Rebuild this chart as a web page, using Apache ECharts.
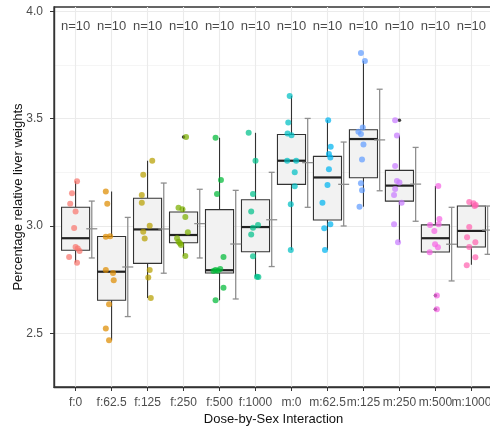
<!DOCTYPE html>
<html>
<head>
<meta charset="utf-8">
<script src="https://cdn.jsdelivr.net/npm/echarts@6/dist/echarts.min.js"></script>
<style>
  html, body { margin: 0; padding: 0; background: #fff; }
  #main { width: 490px; height: 429px; }
</style>
</head>
<body>
<div id="main"></div>
<script>
// groups on the x axis
const groups = ['f:0', 'f:62.5', 'f:125', 'f:250', 'f:500', 'f:1000',
  'm:0', 'm:62.5', 'm:125', 'm:250', 'm:500', 'm:1000'];
const counts = [10, 10, 10, 10, 10, 10, 10, 10, 10, 10, 10, 10];

// box stats: [lower whisker, Q1, median, Q3, upper whisker]
const boxStats = [
  [2.830, 2.887, 2.943, 3.087, 3.208],
  [2.468, 2.654, 2.787, 2.951, 3.161],
  [2.664, 2.826, 2.984, 3.129, 3.304],
  [2.860, 2.922, 2.958, 3.065, 3.085],
  [2.654, 2.781, 2.794, 3.076, 3.411],
  [2.764, 2.880, 2.995, 3.122, 3.434],
  [2.888, 3.194, 3.304, 3.426, 3.606],
  [2.888, 3.028, 3.226, 3.324, 3.493],
  [3.090, 3.225, 3.405, 3.448, 3.769],
  [2.924, 3.116, 3.188, 3.259, 3.422],
  [2.878, 2.879, 2.943, 3.005, 3.186],
  [2.819, 2.902, 2.977, 3.093, 3.112]
];
// outliers: [group index, value]
const outliers = [[3, 3.415], [9, 3.493], [10, 2.676], [10, 2.612]];

// mean and error bar ends
const means = [2.987, 2.809, 2.986, 3.011, 2.916, 3.029, 3.295, 3.194, 3.401, 3.195, 2.915, 2.981];
const errLow = [2.851, 2.578, 2.780, 2.851, 2.660, 2.811, 3.087, 3.000, 3.164, 3.022, 2.744, 2.868];
const errHigh = [3.116, 3.040, 3.200, 3.171, 3.166, 3.250, 3.501, 3.391, 3.637, 3.366, 3.087, 3.093];

// raw observations and their horizontal jitter
const pointValues = [
  [3.208, 3.152, 3.104, 3.068, 2.991, 2.902, 2.884, 2.856, 2.829, 2.895],
  [3.161, 3.104, 2.950, 2.952, 2.795, 2.781, 2.747, 2.636, 2.522, 2.468],
  [3.304, 3.239, 3.144, 3.108, 3.001, 2.973, 2.942, 2.795, 2.760, 2.664],
  [3.085, 3.078, 3.042, 2.971, 2.943, 2.927, 2.919, 2.912, 2.860, 3.415],
  [3.411, 3.214, 3.149, 2.856, 2.800, 2.795, 2.791, 2.790, 2.712, 2.654],
  [3.434, 3.304, 3.149, 3.067, 2.992, 3.005, 2.960, 2.859, 2.764, 2.762],
  [3.606, 3.482, 3.431, 3.423, 3.304, 3.304, 3.250, 3.185, 3.101, 2.888],
  [3.493, 3.369, 3.335, 3.319, 3.264, 3.191, 3.108, 3.008, 2.989, 2.888],
  [3.806, 3.769, 3.459, 3.439, 3.428, 3.380, 3.310, 3.199, 3.167, 3.090],
  [3.493, 3.422, 3.279, 3.209, 3.203, 3.172, 3.144, 3.108, 3.008, 2.924],
  [3.186, 3.033, 3.005, 3.008, 2.977, 2.915, 2.901, 2.878, 2.676, 2.612],
  [3.112, 3.106, 3.098, 3.093, 2.995, 2.947, 2.924, 2.902, 2.854, 2.817]
];
const pointJitter = [
  [0.04, -0.10, -0.15, 0.00, -0.04, 0.00, 0.11, -0.18, 0.04, 0.06],
  [-0.16, -0.12, -0.16, -0.04, -0.16, 0.04, 0.06, -0.07, -0.16, -0.07],
  [0.13, -0.12, -0.16, -0.16, 0.06, -0.12, -0.08, 0.06, 0.02, 0.09],
  [-0.14, -0.03, 0.05, 0.12, -0.18, -0.14, -0.10, -0.07, 0.05, 0.07],
  [-0.11, 0.04, -0.07, 0.11, 0.02, -0.11, -0.05, -0.17, 0.11, -0.11],
  [-0.19, 0.00, -0.07, -0.12, -0.07, 0.07, -0.12, -0.07, 0.04, 0.08],
  [-0.05, -0.09, -0.11, 0.00, -0.12, 0.13, 0.09, 0.09, -0.02, -0.02],
  [0.02, 0.09, 0.04, 0.08, 0.04, 0.00, -0.14, 0.08, -0.09, -0.07],
  [-0.07, 0.04, -0.02, -0.14, -0.07, 0.00, -0.04, -0.07, -0.04, -0.11],
  [-0.12, -0.07, -0.12, -0.07, 0.00, -0.12, -0.15, 0.06, -0.15, -0.04],
  [0.08, 0.11, -0.15, 0.09, -0.03, -0.01, 0.07, -0.16, 0.04, 0.04],
  [-0.06, 0.06, 0.12, 0.09, -0.06, -0.12, 0.11, -0.06, 0.11, -0.13]
];

const palette = ['#F8766D', '#DE8C00', '#B79F00', '#7CAE00', '#00BA38', '#00C08B',
  '#00BFC4', '#00B4F0', '#619CFF', '#C77CFF', '#F564E3', '#FF64B0'];

const FONT = 'Liberation Sans, Arial, sans-serif';
const BOX_HALF = 0.39;
const ERR_SHIFT = 0.45;

var chart = echarts.init(document.getElementById('main'));

// labels split over two bottom axes so neighbours never get hidden
const evenIdx = groups.map((g, i) => i).filter(i => i % 2 === 0);
const oddIdx = groups.map((g, i) => i).filter(i => i % 2 === 1);

const boxSeries = {
  type: 'custom',
  z: 3,
  data: boxStats.map((s, i) => [i].concat(s)),
  renderItem: function (params, api) {
    const i = api.value(0);
    const xl = api.coord([i - BOX_HALF, 3])[0];
    const xr = api.coord([i + BOX_HALF, 3])[0];
    const xc = api.coord([i, 3])[0];
    const y = k => api.coord([i, api.value(k)])[1];
    const lineStyle = { stroke: '#333', lineWidth: 1.1 };
    return {
      type: 'group',
      children: [
        { type: 'line', shape: { x1: xc, y1: y(1), x2: xc, y2: y(2) }, style: lineStyle },
        { type: 'line', shape: { x1: xc, y1: y(4), x2: xc, y2: y(5) }, style: lineStyle },
        { type: 'rect', shape: { x: xl, y: y(4), width: xr - xl, height: y(2) - y(4) },
          style: { fill: '#f2f2f2', stroke: '#333', lineWidth: 1.1 } },
        { type: 'line', shape: { x1: xl, y1: y(3), x2: xr, y2: y(3) },
          style: { stroke: '#222', lineWidth: 2.2 } }
      ]
    };
  }
};

const errSeries = {
  type: 'custom',
  z: 5,
  data: means.map((m, i) => [i, m, errLow[i], errHigh[i]]),
  renderItem: function (params, api) {
    const x = api.value(0) + ERR_SHIFT;
    const p = api.coord([x, api.value(1)]);
    const lo = api.coord([x, api.value(2)]);
    const hi = api.coord([x, api.value(3)]);
    const st = { stroke: '#8f8f8f', lineWidth: 1.3 };
    return {
      type: 'group',
      children: [
        { type: 'line', shape: { x1: lo[0], y1: lo[1], x2: hi[0], y2: hi[1] }, style: st },
        { type: 'line', shape: { x1: lo[0] - 3, y1: lo[1], x2: lo[0] + 3, y2: lo[1] }, style: st },
        { type: 'line', shape: { x1: hi[0] - 3, y1: hi[1], x2: hi[0] + 3, y2: hi[1] }, style: st },
        { type: 'line', shape: { x1: p[0] - 5.5, y1: p[1], x2: p[0] + 5.5, y2: p[1] }, style: st }
      ]
    };
  }
};

const outlierSeries = {
  type: 'scatter',
  z: 4,
  symbolSize: 3.5,
  itemStyle: { color: '#111' },
  data: outliers
};

const pointSeries = pointValues.map((vals, i) => ({
  type: 'scatter',
  z: 4,
  symbolSize: 6,
  itemStyle: { color: palette[i], opacity: 0.72 },
  data: vals.map((v, j) => [i + pointJitter[i][j], v])
}));

const countSeries = {
  type: 'scatter',
  z: 6,
  symbolSize: 1,
  itemStyle: { color: 'rgba(0,0,0,0)' },
  label: {
    show: true, position: 'inside', color: '#1a1a1a', fontSize: 13, fontFamily: FONT,
    formatter: p => 'n=' + p.value[2]
  },
  data: counts.map((n, i) => [i, 3.93, n])
};

const xLabelStyle = {
  margin: 10, fontSize: 12, color: '#4d4d4d', fontFamily: FONT,
  hideOverlap: false, showMinLabel: true, showMaxLabel: true,
  formatter: v => groups[Math.round(v)]
};

chart.setOption({
  animation: false,
  grid: { left: 54, top: 7, width: 439, height: 380, outerBoundsMode: 'none', containLabel: false,
    show: true, borderColor: '#333', borderWidth: 1.3, backgroundColor: '#fff' },
  xAxis: [{
    type: 'value', min: -0.6, max: 11.6,
    name: 'Dose-by-Sex Interaction', nameLocation: 'middle', nameGap: 26, nameMoveOverlap: false,
    nameTextStyle: { fontSize: 13, color: '#111', fontFamily: FONT },
    axisLine: { show: true, onZero: false, lineStyle: { color: '#333', width: 1.4 } },
    axisTick: { show: true, length: 4, customValues: evenIdx, lineStyle: { color: '#333' } },
    axisLabel: Object.assign({ customValues: evenIdx }, xLabelStyle),
    splitLine: { show: true, lineStyle: { color: '#ebebeb', width: 1.1 } }
  }, {
    type: 'value', min: -0.6, max: 11.6, position: 'bottom', offset: 0,
    axisLine: { show: false, onZero: false },
    axisTick: { show: true, length: 4, customValues: oddIdx, lineStyle: { color: '#333' } },
    axisLabel: Object.assign({ customValues: oddIdx }, xLabelStyle),
    splitLine: { show: true, lineStyle: { color: '#ebebeb', width: 1.1 } }
  }],
  yAxis: [{
    type: 'value', min: 2.25, max: 4.02,
    name: 'Percentage relative liver weights', nameLocation: 'middle', nameGap: 29, nameMoveOverlap: false,
    nameTextStyle: { fontSize: 13, color: '#111', fontFamily: FONT },
    axisLine: { show: true, onZero: false, lineStyle: { color: '#333', width: 1.4 } },
    axisTick: { show: true, length: 4, customValues: [2.5, 3, 3.5, 4], lineStyle: { color: '#333' } },
    axisLabel: { customValues: [2.5, 3, 3.5, 4], margin: 11, fontSize: 12, color: '#4d4d4d', fontFamily: FONT,
      showMinLabel: true, showMaxLabel: true, formatter: v => v.toFixed(1) },
    splitLine: { show: true, lineStyle: { color: '#ebebeb', width: 1.1 } }
  }, {
    type: 'value', min: 2.25, max: 4.02, position: 'left',
    axisLine: { show: false, onZero: false }, axisLabel: { show: false },
    axisTick: { show: false, customValues: [2.75, 3.25, 3.75] },
    splitLine: { show: true, lineStyle: { color: '#f3f3f3', width: 0.8 } }
  }],
  series: [boxSeries, outlierSeries].concat(pointSeries, [errSeries, countSeries])
});
</script>
</body>
</html>
